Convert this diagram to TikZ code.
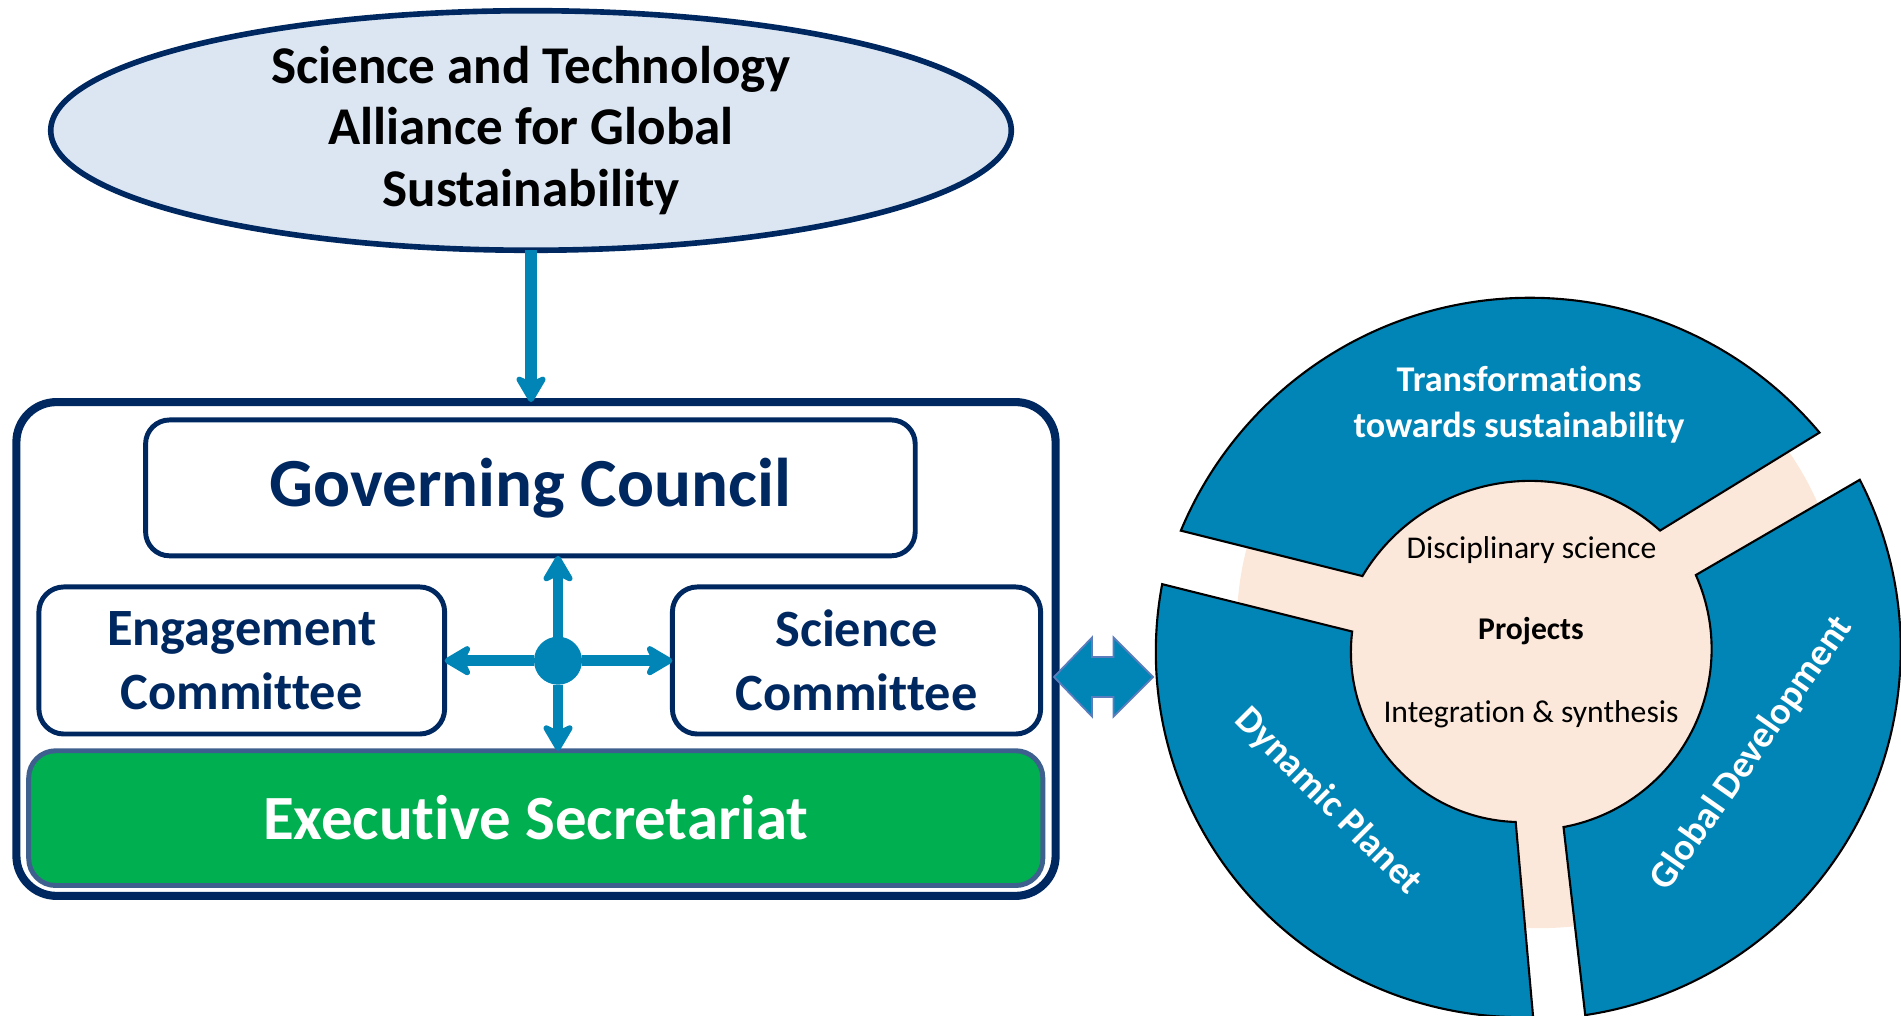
\documentclass[tikz,border=0pt]{standalone}
\usepackage{fontspec}
\setmainfont{Carlito}[Ligatures={NoCommon}]
\usetikzlibrary{arrows.meta,shapes.geometric,calc}

\definecolor{navy}{RGB}{0,40,96}
\definecolor{ringblue}{RGB}{0,133,182}
\definecolor{mist}{RGB}{220,230,242}
\definecolor{secgreen}{RGB}{0,175,80}
\definecolor{secedge}{RGB}{62,96,142}
\definecolor{peach}{RGB}{252,232,218}
\definecolor{linkedge}{RGB}{91,125,190}

\begin{document}
\begin{tikzpicture}[x=0.01cm,y=0.01cm,
  box/.style={draw=navy, line width=1.4pt, rounded corners=0.24cm, fill=white,
    inner sep=0pt, outer sep=0pt, text=navy, align=center},
  flow/.style={draw=ringblue, line width=3.1pt,
    -{Stealth[round,length=9pt,width=10.5pt,inset=2.5pt]}},
  segment/.style={fill=ringblue, draw=black, line width=0.6pt},
  seglabel/.style={text=white, align=center, inner sep=0pt},
  core/.style={text=black, inner sep=0pt, font=\fontsize{9}{11}\selectfont},
]
\useasboundingbox (0,0) rectangle (1901,1016);

% ---------------- governance side ----------------
\node[ellipse, draw=navy, line width=1.6pt, fill=mist, minimum width=9.6cm,
  minimum height=2.37cm, inner sep=0pt, outer sep=0pt, align=center,
  font=\bfseries\fontsize{15.1}{17.6}\selectfont] (alliance) at (531,885.5)
  {Science and Technology\\Alliance for Global\\Sustainability};

\node[draw=navy, line width=2.3pt, rounded corners=0.4cm, minimum width=10.386cm,
  minimum height=4.935cm, inner sep=0pt, outer sep=0pt] (frame) at (536,367) {};

\node[box, minimum width=7.692cm, minimum height=1.358cm,
  font=\bfseries\fontsize{19.6}{23}\selectfont] (council) at (530.4,528.1)
  {Governing Council};

\node[box, rounded corners=0.25cm, minimum width=4.055cm, minimum height=1.47cm,
  font=\bfseries\fontsize{14.9}{18.3}\selectfont] (engage) at (241.75,355.5)
  {Engagement\\Committee};

\node[box, rounded corners=0.25cm, minimum width=3.68cm, minimum height=1.47cm,
  font=\bfseries\fontsize{14.9}{18.3}\selectfont] (science) at (856.5,355.5)
  {Science\\Committee};

\node[draw=secedge, fill=secgreen, line width=1.4pt, rounded corners=0.27cm,
  minimum width=10.135cm, minimum height=1.347cm, inner sep=0pt, outer sep=0pt,
  text=white, font=\bfseries\fontsize{17.9}{21}\selectfont] (secretariat)
  at (535.75,197.85) {Executive Secretariat};

\node[circle, fill=ringblue, minimum size=0.48cm, inner sep=0pt, outer sep=0pt]
  (hub) at (558,355.3) {};

\draw[flow] (hub) -- (hub |- council.south);
\draw[flow] (hub) -- (hub |- secretariat.north);
\draw[flow] (hub) -- (hub -| engage.east);
\draw[flow] (hub) -- (hub -| science.west);

\draw[flow, line width=3.4pt] (alliance.south) -- (alliance.south |- frame.north);

% ---------------- research ring ----------------
\fill[peach] (1540,391) circle[radius=3.03cm];

\coordinate (ctop) at (1530,340);
\coordinate (cright) at (1530.5,367);
\coordinate (cleft) at (1521,364);

\draw[segment] ($(ctop)+(40.06:3.78cm)$)
  arc[start angle=40.06, end angle=157.4, radius=3.78cm]
  -- ($(ctop)+(149.2:1.95cm)$)
  arc[start angle=149.2, end angle=48.2, radius=1.95cm] -- cycle;

\draw[segment] ($(cright)+(27.2:3.70cm)$)
  arc[start angle=27.2, end angle=-81.5, radius=3.70cm]
  -- ($(cright)+(-79.5:1.81cm)$)
  arc[start angle=-79.5, end angle=24.1, radius=1.81cm] -- cycle;

\draw[segment] ($(cleft)+(169.3:3.65cm)$)
  arc[start angle=169.3, end angle=271.9, radius=3.65cm]
  -- ($(cleft)+(268.2:1.70cm)$)
  arc[start angle=268.2, end angle=173.1, radius=1.70cm] -- cycle;

\node[seglabel, font=\bfseries\fontsize{10.3}{13.1}\selectfont] (transform)
  at (1519,611) {Transformations\\towards sustainability};
\node[seglabel, rotate=-45, font=\bfseries\fontsize{10.8}{13}\selectfont] (planet)
  at (1328,214.5) {Dynamic Planet};
\node[seglabel, rotate=55, font=\bfseries\fontsize{10.8}{13}\selectfont] (develop)
  at (1752,262.5) {Global Development};

\node[core] (disc) at (1531.5,466) {Disciplinary science};
\node[core, font=\bfseries\fontsize{9}{11}\selectfont] (projects) at (1531,384.6) {Projects};
\node[core] (integ) at (1531,302.2) {Integration \& synthesis};

% ---------------- link between the two halves ----------------
\coordinate (link) at (1103.5,339);
\filldraw[fill=ringblue, draw=linkedge, line width=0.5pt, shift={(link)}]
  (-49.5,0) -- (-11.5,39.5) -- (-11.5,20) -- (10,20) -- (10,39.5) -- (49.5,0)
  -- (10,-39.5) -- (10,-20) -- (-11.5,-20) -- (-11.5,-39.5) -- cycle;
\end{tikzpicture}
\end{document}
